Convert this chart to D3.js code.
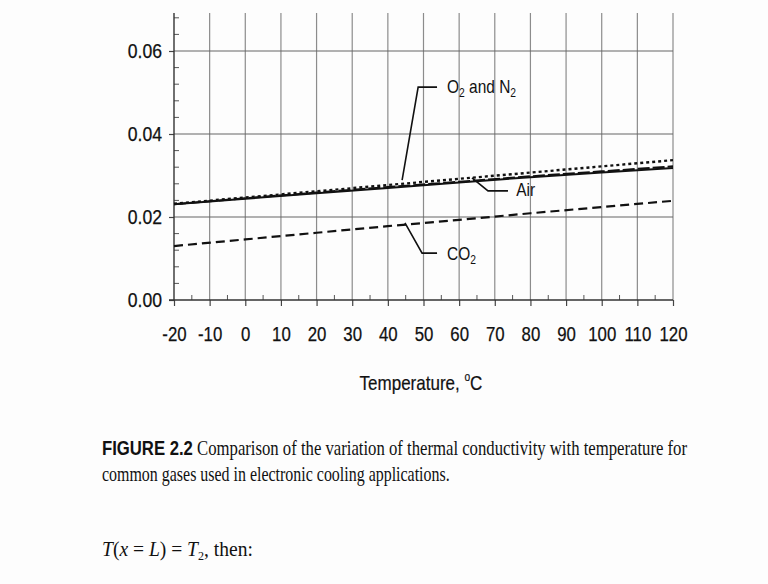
<!DOCTYPE html>
<html>
<head>
<meta charset="utf-8">
<script src="https://cdn.jsdelivr.net/npm/d3@7"></script>
<style>
  body { margin: 0; background: #fdfdfd; }
  svg { display: block; }
</style>
</head>
<body>
<svg id="chart" width="768" height="584"></svg>
<script>
// Data (thermal conductivity, W/m·K)
var temps = [-20, 0, 20, 40, 60, 80, 100, 120];
var air = [0.0231, 0.0244, 0.0257, 0.0270, 0.0283, 0.0296, 0.0307, 0.0318];
var oxygen = [0.0232, 0.0247, 0.0262, 0.0277, 0.0292, 0.0307, 0.0322, 0.0337];
var nitrogen = [0.0231, 0.0245, 0.0259, 0.0272, 0.0285, 0.0298, 0.0310, 0.0322];
var co2 = [0.0130, 0.0146, 0.0162, 0.0178, 0.0193, 0.0209, 0.0224, 0.0239];

var xTicks = [-20, -10, 0, 10, 20, 30, 40, 50, 60, 70, 80, 90, 100, 110, 120];
var yTicks = [0, 0.02, 0.04, 0.06];

// leader lines for the labels, in data units [temp, k]
var o2Leader = [[44, 0.0289], [48.5, 0.0513], [53.8, 0.0513]];
var airLeader = [[63.6, 0.0294], [68.1, 0.0263], [73.7, 0.0263]];
var co2Leader = [[44.8, 0.0186], [49.6, 0.0113], [53.8, 0.0113]];

var svg = d3.select("#chart");
var sans = "Liberation Sans, Arial, sans-serif";
var serif = "Liberation Serif, Times New Roman, serif";

// the figure uses a narrow face, so squeeze single-run text horizontally
function squeeze(sel, f) {
  sel.each(function() {
    var len = this.getComputedTextLength();
    d3.select(this).attr("textLength", len * f).attr("lengthAdjust", "spacingAndGlyphs");
  });
}

// text with sub/superscripts: scale the whole element instead
function placeText(px, py, sx) {
  return svg.append("text")
    .attr("x", 0).attr("y", 0)
    .attr("transform", "translate(" + px + "," + py + ") scale(" + sx + ",1)")
    .attr("fill", "#111");
}

// scale text so it spans a given width
function fitTo(t, px, py, width) {
  var w = t.node().getBBox().width;
  t.attr("transform", "translate(" + px + "," + py + ") scale(" + (width / w) + ",1)");
}

var x = d3.scaleLinear().domain([-20, 120]).range([174, 673]);
var y = d3.scaleLinear().domain([0, 0.06]).range([300, 51]);
var yTop = y.invert(13);

var gridColor = "#8c8c8c";

// vertical grid lines
svg.append("g").selectAll("line")
  .data(xTicks.slice(1))
  .enter().append("line")
  .attr("x1", function(d) { return x(d); })
  .attr("x2", function(d) { return x(d); })
  .attr("y1", y(0))
  .attr("y2", y(yTop))
  .attr("stroke", gridColor)
  .attr("stroke-width", 1.2);

// horizontal grid lines
svg.append("g").selectAll("line")
  .data(yTicks.slice(1))
  .enter().append("line")
  .attr("x1", x(-20))
  .attr("x2", x(120))
  .attr("y1", function(d) { return y(d); })
  .attr("y2", function(d) { return y(d); })
  .attr("stroke", "#666")
  .attr("stroke-width", 1.2);

// x axis
var xAxis = svg.append("g")
  .attr("transform", "translate(0," + y(0) + ")")
  .call(d3.axisBottom(x).tickValues(xTicks).tickFormat(d3.format("d")).tickSize(6).tickPadding(21));
xAxis.select(".domain").remove();
xAxis.selectAll("line").attr("stroke", "#444").attr("stroke-width", 1.2);
xAxis.selectAll("text")
  .attr("font-family", sans)
  .attr("font-size", 20)
  .attr("fill", "#111")
  .attr("stroke", "#111").attr("stroke-width", 0.25)
  .text(function(d) { return d < 0 ? "-" + Math.abs(d) : d; })
  .call(squeeze, 0.84);

// minor x ticks (inside)
svg.append("g").selectAll("line")
  .data(d3.range(-15, 120, 10))
  .enter().append("line")
  .attr("x1", function(d) { return x(d); })
  .attr("x2", function(d) { return x(d); })
  .attr("y1", y(0))
  .attr("y2", y(0) - 5)
  .attr("stroke", "#555")
  .attr("stroke-width", 1);

// y axis
var yAxis = svg.append("g")
  .attr("transform", "translate(" + x(-20) + ",0)")
  .call(d3.axisLeft(y).tickValues(yTicks).tickFormat(d3.format(".2f")).tickSize(5).tickPadding(7));
yAxis.select(".domain").remove();
yAxis.selectAll("line").attr("stroke", "#444").attr("stroke-width", 1.2);
yAxis.selectAll("text")
  .attr("font-family", sans)
  .attr("font-size", 20)
  .attr("fill", "#111")
  .attr("stroke", "#111").attr("stroke-width", 0.25)
  .call(squeeze, 0.88);

// minor y ticks (inside)
var yMinor = d3.range(0.004, 0.0685, 0.004).filter(function(d) {
  return Math.abs(d / 0.02 - Math.round(d / 0.02)) > 0.01;
});
svg.append("g").selectAll("line")
  .data(yMinor)
  .enter().append("line")
  .attr("x1", x(-20))
  .attr("x2", x(-20) + 5)
  .attr("y1", function(d) { return y(d); })
  .attr("y2", function(d) { return y(d); })
  .attr("stroke", "#555")
  .attr("stroke-width", 1);

// axis lines
svg.append("line")
  .attr("x1", x(-20)).attr("x2", x(-20))
  .attr("y1", y(0)).attr("y2", y(yTop))
  .attr("stroke", "#333").attr("stroke-width", 1.4);
svg.append("line")
  .attr("x1", x(-20) - 5).attr("x2", x(120))
  .attr("y1", y(0)).attr("y2", y(0))
  .attr("stroke", "#333").attr("stroke-width", 1.4);

// series
var line = d3.line()
  .x(function(d) { return x(d[0]); })
  .y(function(d) { return y(d[1]); });

function drawSeries(vals, dash, width) {
  svg.append("path")
    .datum(d3.zip(temps, vals))
    .attr("d", line)
    .attr("fill", "none")
    .attr("stroke", "#111")
    .attr("stroke-width", width)
    .attr("stroke-dasharray", dash);
}

drawSeries(co2, "9,5", 2.2);
drawSeries(nitrogen, "12,3", 2);
drawSeries(oxygen, "3,3", 2.4);
drawSeries(air, null, 2);

// leaders
[o2Leader, airLeader, co2Leader].forEach(function(pts) {
  svg.append("path")
    .datum(pts)
    .attr("d", line)
    .attr("fill", "none")
    .attr("stroke", "#111")
    .attr("stroke-width", 1.6);
});

// series labels
var t1 = placeText(x(56.6), y(0.0513) + 6, 0.86).attr("font-family", sans).attr("font-size", 18);
t1.append("tspan").text("O");
t1.append("tspan").attr("font-size", 12).attr("dy", "4").text("2");
t1.append("tspan").attr("dy", "-4").text(" and N");
t1.append("tspan").attr("font-size", 12).attr("dy", "4").text("2");

placeText(x(76), y(0.0265) + 6, 0.86).attr("font-family", sans).attr("font-size", 18).text("Air");

var t3 = placeText(x(56.6), y(0.0111) + 6, 0.86).attr("font-family", sans).attr("font-size", 18);
t3.append("tspan").text("CO");
t3.append("tspan").attr("font-size", 12).attr("dy", "4").text("2");

// x axis title
var xt = placeText(421, 390, 0.85)
  .attr("text-anchor", "middle")
  .attr("font-family", sans)
  .attr("font-size", 20)
  .attr("stroke", "#111").attr("stroke-width", 0.2);
xt.append("tspan").text("Temperature, ");
xt.append("tspan").attr("font-size", 12).attr("dy", "-9").text("o");
xt.append("tspan").attr("dy", "9").text("C");

// caption text below the figure
var c1 = placeText(102, 455, 1).attr("font-family", serif).attr("font-size", 20);
c1.append("tspan").attr("font-weight", "bold").attr("font-family", sans).text("FIGURE 2.2");
c1.append("tspan").text(" Comparison of the variation of thermal conductivity with temperature for");
fitTo(c1, 102, 455, 586);

var c2 = placeText(102, 481, 1).attr("font-family", serif).attr("font-size", 20)
  .text("common gases used in electronic cooling applications.");
fitTo(c2, 102, 481, 348);

var c3 = placeText(102, 556, 1).attr("font-family", serif).attr("font-size", 21);
c3.append("tspan").attr("font-style", "italic").text("T");
c3.append("tspan").text("(");
c3.append("tspan").attr("font-style", "italic").text("x");
c3.append("tspan").text(" = ");
c3.append("tspan").attr("font-style", "italic").text("L");
c3.append("tspan").text(") = ");
c3.append("tspan").attr("font-style", "italic").text("T");
c3.append("tspan").attr("font-size", 13).attr("dy", "4").text("2");
c3.append("tspan").attr("dy", "-4").text(", then:");
fitTo(c3, 102, 556, 151);

var c4 = placeText(371, 597, 1).attr("font-family", serif).attr("font-size", 19);
c4.append("tspan").attr("font-style", "italic").text("T");
c4.append("tspan").text(" \u2212 ");
c4.append("tspan").attr("font-style", "italic").text("T");
</script>
</body>
</html>
